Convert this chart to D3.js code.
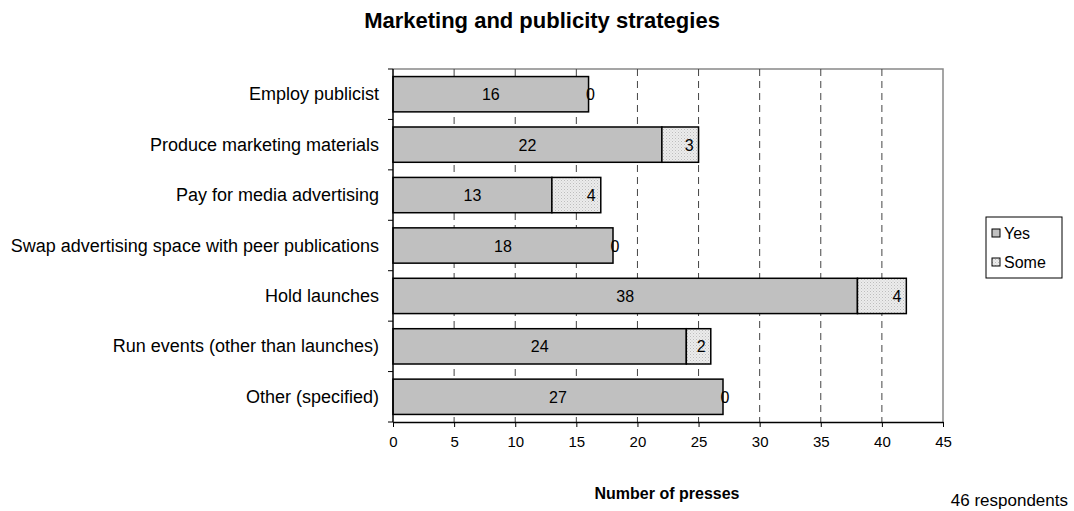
<!DOCTYPE html>
<html>
<head>
<meta charset="utf-8">
<script src="https://cdn.jsdelivr.net/npm/d3@7"></script>
<style>
  html, body { margin: 0; padding: 0; background: #fff; }
  svg { display: block; font-family: "Liberation Sans", Arial, sans-serif; }
</style>
</head>
<body>
<svg id="chart" width="1074" height="511"></svg>
<script>
// Survey results: marketing and publicity strategies used by presses
const categories = [
  "Employ publicist",
  "Produce marketing materials",
  "Pay for media advertising",
  "Swap advertising space with peer publications",
  "Hold launches",
  "Run events (other than launches)",
  "Other (specified)"
];
const yesValues  = [16, 22, 13, 18, 38, 24, 27];
const someValues = [0, 3, 4, 0, 4, 2, 0];
const xTicks = [0, 5, 10, 15, 20, 25, 30, 35, 40, 45];
const seriesNames = ["Yes", "Some"];

const svg = d3.select("#chart");
const plot = { left: 393, right: 943, top: 69, bottom: 422 };

const x = d3.scaleLinear().domain([0, 45]).range([plot.left, plot.right]);
const y = d3.scaleBand().domain(categories).range([plot.top, plot.bottom]).paddingInner(0.3).paddingOuter(0.15);

// dotted fill for the "Some" series
const defs = svg.append("defs");
const pat = defs.append("pattern").attr("id", "dots").attr("patternUnits", "userSpaceOnUse")
  .attr("width", 3).attr("height", 3);
pat.append("rect").attr("width", 3).attr("height", 3).attr("fill", "#ececec");
pat.append("rect").attr("x", 0).attr("y", 0).attr("width", 1).attr("height", 1).attr("fill", "#bdbdbd");
pat.append("rect").attr("x", 1.5).attr("y", 1.5).attr("width", 1).attr("height", 1).attr("fill", "#cfcfcf");

// title
svg.append("text").attr("x", 542).attr("y", 28).attr("text-anchor", "middle")
  .attr("font-size", 22).attr("font-weight", "bold").text("Marketing and publicity strategies");

// plot frame (top and right)
svg.append("path")
  .attr("d", `M${plot.left},${plot.top}H${plot.right}V${plot.bottom}`)
  .attr("fill", "none").attr("stroke", "#888").attr("stroke-width", 1.5);

// dashed gridlines
svg.append("g").selectAll("line").data(xTicks.filter(d => d > 0 && d < 45)).join("line")
  .attr("x1", d => x(d)).attr("x2", d => x(d))
  .attr("y1", plot.top).attr("y2", plot.bottom)
  .attr("stroke", "#444").attr("stroke-width", 1).attr("stroke-dasharray", "7,5");

// stacked bars
const rows = categories.map((c, i) => ({ c, yes: yesValues[i], some: someValues[i] }));
const barG = svg.append("g");
barG.selectAll("rect.yes").data(rows).join("rect").attr("class", "yes")
  .attr("x", x(0)).attr("y", d => y(d.c))
  .attr("width", d => x(d.yes) - x(0)).attr("height", y.bandwidth())
  .attr("fill", "#c0c0c0").attr("stroke", "#000").attr("stroke-width", 1.5);
barG.selectAll("rect.some").data(rows.filter(d => d.some > 0)).join("rect").attr("class", "some")
  .attr("x", d => x(d.yes)).attr("y", d => y(d.c))
  .attr("width", d => x(d.yes + d.some) - x(d.yes)).attr("height", y.bandwidth())
  .attr("fill", "url(#dots)").attr("stroke", "#000").attr("stroke-width", 1.5);

// value labels
const lab = svg.append("g").attr("font-size", 16).attr("fill", "#000");
lab.selectAll("text.yes").data(rows).join("text").attr("class", "yes")
  .attr("x", d => (x(0) + x(d.yes)) / 2).attr("y", d => y(d.c) + y.bandwidth() / 2 + 6)
  .attr("text-anchor", "middle").text(d => d.yes);
lab.selectAll("text.some").data(rows).join("text").attr("class", "some")
  .attr("x", d => d.some === 0 ? x(d.yes) + 2 : x(d.yes + d.some) - 5)
  .attr("y", d => y(d.c) + y.bandwidth() / 2 + 6)
  .attr("text-anchor", d => d.some === 0 ? "middle" : "end").text(d => d.some);

// y axis
const yAxis = svg.append("g").attr("transform", `translate(${plot.left},0)`);
yAxis.append("line").attr("x1", 0).attr("x2", 0).attr("y1", plot.top).attr("y2", plot.bottom)
  .attr("stroke", "#000").attr("stroke-width", 1.5);
yAxis.selectAll("line.tk").data(d3.range(categories.length + 1)).join("line").attr("class", "tk")
  .attr("x1", -5).attr("x2", 0)
  .attr("y1", i => plot.top + i * (plot.bottom - plot.top) / categories.length)
  .attr("y2", i => plot.top + i * (plot.bottom - plot.top) / categories.length)
  .attr("stroke", "#000").attr("stroke-width", 1);
yAxis.selectAll("text").data(categories).join("text")
  .attr("x", -14).attr("y", d => y(d) + y.bandwidth() / 2 + 6)
  .attr("text-anchor", "end").attr("font-size", 18).text(d => d);

// x axis
const xAxisG = svg.append("g").attr("transform", `translate(0,${plot.bottom})`)
  .call(d3.axisBottom(x).tickValues(xTicks).tickSize(5).tickSizeOuter(0).tickPadding(9));
xAxisG.select(".domain").attr("stroke", "#000").attr("stroke-width", 1.5);
xAxisG.selectAll(".tick line").attr("stroke", "#000");
xAxisG.selectAll(".tick text").attr("font-size", 15).attr("font-family", "Liberation Sans, Arial, sans-serif").attr("fill", "#000");

svg.append("text").attr("x", 667).attr("y", 499).attr("text-anchor", "middle")
  .attr("font-size", 16).attr("font-weight", "bold").text("Number of presses");

svg.append("text").attr("x", 1068).attr("y", 506).attr("text-anchor", "end")
  .attr("font-size", 17).text("46 respondents");

// legend
const lg = svg.append("g").attr("transform", "translate(986,217)");
lg.append("rect").attr("width", 76).attr("height", 61).attr("fill", "#fff").attr("stroke", "#000");
const fills = ["#c0c0c0", "url(#dots)"];
seriesNames.forEach((n, i) => {
  const row = lg.append("g").attr("transform", `translate(6,${16 + i * 29})`);
  row.append("rect").attr("x", 0).attr("y", -4).attr("width", 8).attr("height", 8)
    .attr("fill", fills[i]).attr("stroke", "#000");
  row.append("text").attr("x", 12).attr("y", 6).attr("font-size", 16).text(n);
});
</script>
</body>
</html>
